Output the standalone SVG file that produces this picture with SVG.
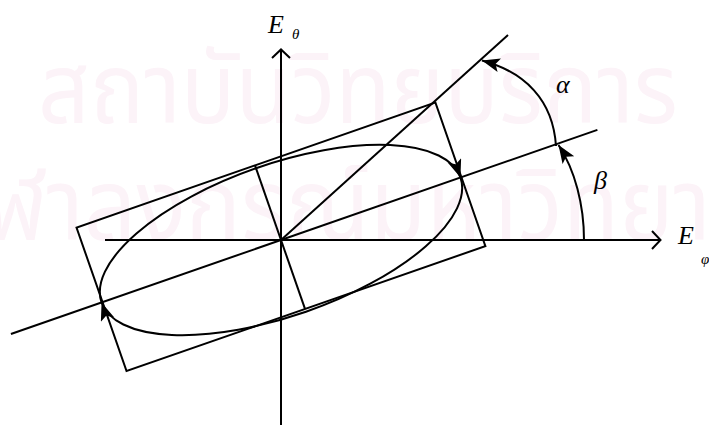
<svg xmlns="http://www.w3.org/2000/svg" width="709" height="425" viewBox="0 0 709 425">
<defs>
<style>
.ln{fill:none;stroke:#000;stroke-width:2;stroke-linecap:butt}
.lbl{font-family:"Liberation Serif","Times New Roman",serif;font-style:italic;fill:#000}
.wm{font-family:"Noto Sans Thai","Noto Sans","DejaVu Sans",sans-serif;fill:#fcf3f8}
</style>
<marker id="arr" markerUnits="userSpaceOnUse" markerWidth="19" markerHeight="15" refX="18" refY="7" orient="auto">
<path d="M0 0 L18 7 L0 14 L4 7 z" fill="#000"/>
</marker>
</defs>
<rect width="709" height="425" fill="#fff"/>
<g id="watermark">
<text class="wm" x="38" y="123" font-size="98" textLength="640" lengthAdjust="spacingAndGlyphs">สถาบันวิทยบริการ</text>
<text class="wm" x="-15" y="240" font-size="100" textLength="726" lengthAdjust="spacingAndGlyphs">ฬาลงกรณ์มหาวิทยา</text>
</g>
<g id="axes">
<path class="ln" d="M281 50 V425"/>
<path class="ln" d="M272 58 L281 49.5 L290 58"/>
<path class="ln" d="M105 240 H660"/>
<path class="ln" d="M652 231 L660.5 240 L652 249"/>
</g>
<g id="polarization" transform="translate(281 240) rotate(-19.2)">
<polygon id="rectangle" class="ln" points="-189,-79 191,-79 191,73 -189,73"/>
<path id="major-axis" class="ln" d="M-286 0 H335"/>
<path id="minor-axis" class="ln" d="M0 -79 V73"/>
<path id="ellipse-top" class="ln" d="M-190 0 A190 76 0 0 1 190 0" marker-end="url(#arr)"/>
<path id="ellipse-bottom" class="ln" d="M190 0 A190 76 0 0 1 -190 0" marker-end="url(#arr)"/>
</g>
<g id="connectors">
<path id="diagonal" class="ln" d="M281 240 L508 35"/>
<path id="alpha-arc" class="ln" d="M556 146 C553 100 525 72 482 60.5" marker-end="url(#arr)"/>
<path id="beta-arc" class="ln" d="M584 240 C584 205 575 170 558.5 145" marker-end="url(#arr)"/>
</g>
<g id="labels">
<text class="lbl" x="268" y="33" font-size="26">E</text>
<text class="lbl" x="292" y="39" font-size="15">θ</text>
<text class="lbl" x="678" y="244" font-size="26">E</text>
<text class="lbl" x="701" y="264" font-size="15">φ</text>
<text class="lbl" x="556" y="93" font-size="26">α</text>
<text class="lbl" x="594" y="189" font-size="26">β</text>
</g>
</svg>
